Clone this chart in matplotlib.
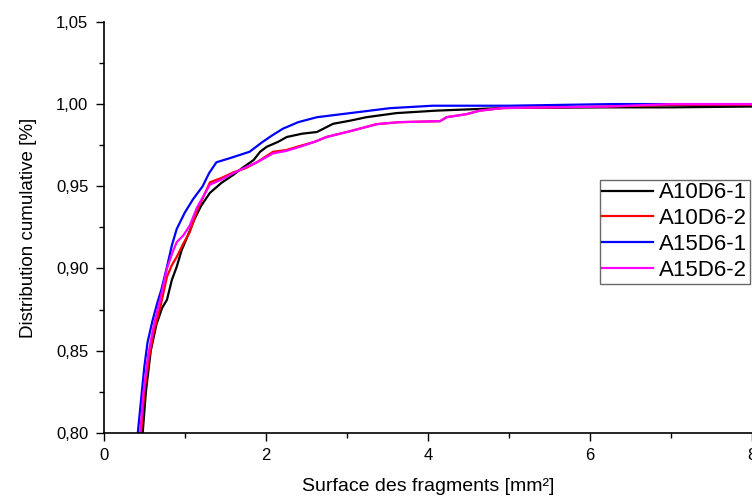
import matplotlib
matplotlib.use("Agg")
import matplotlib.pyplot as plt
from matplotlib.ticker import MultipleLocator, FuncFormatter

plt.rcParams['font.family'] = ['Liberation Sans', 'DejaVu Sans']

# values (surface in mm², cumulative fraction)
x_a10d6_1 = [0.48, 0.52, 0.58, 0.65, 0.72, 0.78, 0.84, 0.90, 0.96, 1.02, 1.12, 1.20, 1.31, 1.45, 1.60,
             1.72, 1.85, 1.93, 2.01, 2.15, 2.26, 2.45, 2.63, 2.83, 3.05, 3.24, 3.61, 4.10, 4.93, 6.20, 7.00, 8.00]
y_a10d6_1 = [0.800, 0.825, 0.850, 0.866, 0.876, 0.881, 0.893, 0.901, 0.911, 0.918, 0.930, 0.938, 0.946, 0.952, 0.957,
             0.9615, 0.966, 0.971, 0.974, 0.977, 0.980, 0.982, 0.983, 0.988, 0.990, 0.992, 0.9945, 0.996, 0.9976, 0.998, 0.998, 0.9985]

x_a10d6_2 = [0.46, 0.50, 0.56, 0.62, 0.70, 0.78, 0.84, 0.90, 0.98, 1.06, 1.15, 1.31, 1.45, 1.60, 1.75,
             1.89, 2.09, 2.25, 2.42, 2.60, 2.75, 3.04, 3.37, 3.65, 4.15, 4.23, 4.48, 4.64, 4.93, 6.20, 7.00, 8.00]
y_a10d6_2 = [0.800, 0.825, 0.846, 0.862, 0.877, 0.895, 0.902, 0.907, 0.915, 0.922, 0.935, 0.9524, 0.955, 0.9585, 0.961,
             0.9646, 0.971, 0.972, 0.9745, 0.977, 0.980, 0.9835, 0.9878, 0.989, 0.9896, 0.992, 0.9939, 0.996, 0.9976, 0.9985, 0.9995, 0.9995]

x_a15d6_1 = [0.42, 0.46, 0.50, 0.54, 0.60, 0.66, 0.71, 0.78, 0.84, 0.90, 1.00, 1.10, 1.22, 1.30, 1.39,
             1.55, 1.80, 1.96, 2.08, 2.21, 2.40, 2.63, 3.04, 3.53, 4.06, 5.00, 6.28, 7.00, 8.00]
y_a15d6_1 = [0.800, 0.820, 0.840, 0.855, 0.868, 0.879, 0.887, 0.901, 0.914, 0.924, 0.934, 0.942, 0.950, 0.958, 0.9646,
             0.967, 0.971, 0.977, 0.981, 0.985, 0.989, 0.992, 0.9945, 0.9975, 0.999, 0.999, 1.000, 1.000, 1.000]

x_a15d6_2 = [0.45, 0.49, 0.55, 0.62, 0.70, 0.78, 0.85, 0.90, 0.98, 1.06, 1.15, 1.31, 1.45, 1.60, 1.75,
             1.89, 2.09, 2.25, 2.42, 2.60, 2.75, 3.04, 3.37, 3.65, 4.15, 4.23, 4.48, 4.64, 4.93, 6.20, 7.00, 8.00]
y_a15d6_2 = [0.800, 0.825, 0.848, 0.866, 0.882, 0.900, 0.910, 0.916, 0.920, 0.926, 0.937, 0.951, 0.954, 0.958, 0.9615,
             0.9646, 0.970, 0.9715, 0.974, 0.977, 0.980, 0.9835, 0.9878, 0.989, 0.9896, 0.992, 0.9939, 0.996, 0.9976, 0.9985, 1.000, 1.000]

series = [
    ("A10D6-1", x_a10d6_1, y_a10d6_1, "black"),
    ("A10D6-2", x_a10d6_2, y_a10d6_2, "#ff0000"),
    ("A15D6-1", x_a15d6_1, y_a15d6_1, "#0000ff"),
    ("A15D6-2", x_a15d6_2, y_a15d6_2, "#ff00ff"),
]

fig = plt.figure(figsize=(7.52, 4.97), dpi=100)
ax = fig.add_axes([0.138, 0.129, 0.862, 0.827])

for name, xs, ys, col in series:
    ax.plot(xs, ys, color=col, lw=1.6, label=name)

ax.set_xlim(0, 8)
ax.set_ylim(0.80, 1.05)
ax.xaxis.set_major_locator(MultipleLocator(2))
ax.xaxis.set_minor_locator(MultipleLocator(1))
ax.yaxis.set_major_locator(MultipleLocator(0.05))
ax.yaxis.set_minor_locator(MultipleLocator(0.025))
ax.yaxis.set_major_formatter(FuncFormatter(lambda v, p: f"{v:.2f}".replace(".", ",")))
ax.tick_params(which='major', direction='out', length=6, width=1, labelsize=12, pad=5)
ax.tick_params(which='minor', direction='out', length=3.5, width=1)

ax.spines['top'].set_visible(False)
ax.spines['right'].set_visible(False)
ax.spines['left'].set_linewidth(1.2)
ax.spines['bottom'].set_linewidth(1.2)

ax.set_xlabel("Surface des fragments [mm²]", fontsize=14, labelpad=11)
ax.set_ylabel("Distribution cumulative [%]", fontsize=13.5, labelpad=14)

leg = ax.legend(loc='upper left', bbox_to_anchor=(0.765, 0.616), fontsize=16, frameon=True, fancybox=False,
                handlelength=2.3, handletextpad=0.25, borderpad=0.12, labelspacing=0.22, borderaxespad=0)
leg.get_frame().set_edgecolor('#444444')
leg.get_frame().set_linewidth(1.0)

fig.savefig("out.png", dpi=100)
